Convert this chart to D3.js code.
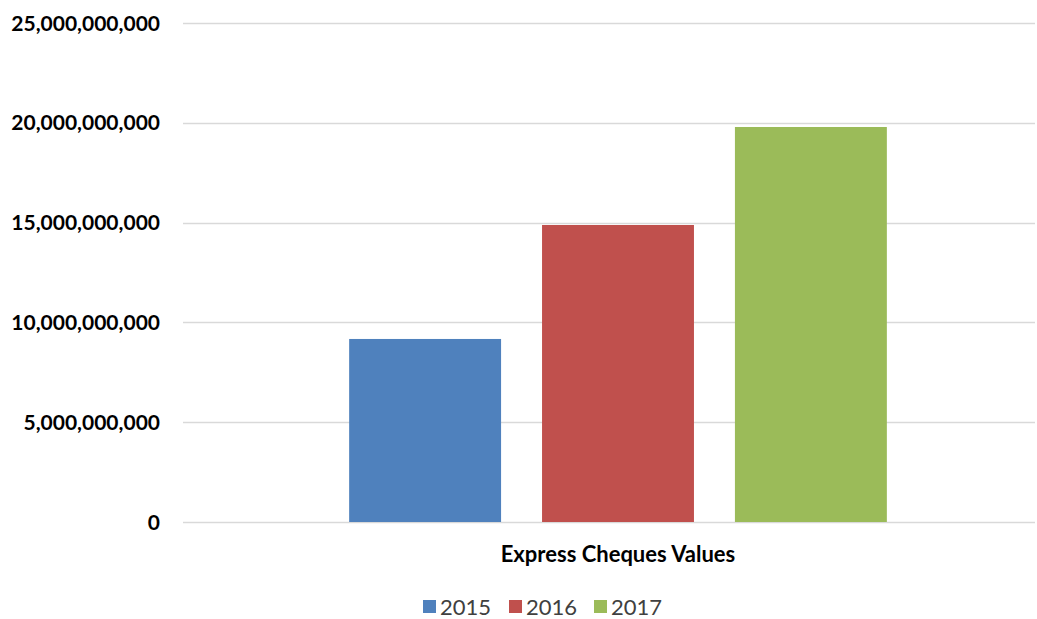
<!DOCTYPE html>
<html>
<head>
<meta charset="utf-8">
<title>Express Cheques Values</title>
<script src="https://d3js.org/d3.v7.min.js"></script>
<style>
  body { margin: 0; background: #fff; }
  text { font-family: Lato, "Open Sans", sans-serif; }
</style>
</head>
<body>
<div id="chart"></div>
<script>
// data
const categories = ["Express Cheques Values"];
const years = ["2015", "2016", "2017"];
const values = [9170000000, 14880000000, 19790000000];
const colors = ["#4F81BD", "#C0504D", "#9BBB59"];
const yTicks = [0, 5e9, 10e9, 15e9, 20e9, 25e9];

// layout
const width = 1037, height = 619;
const plotLeft = 183, plotRight = 1035, plotTop = 23, plotBottom = 522;

const svg = d3.select("#chart").append("svg")
    .attr("width", width)
    .attr("height", height);

const y = d3.scaleLinear().domain([0, 25e9]).range([plotBottom, plotTop]);

const x0 = d3.scaleBand().domain(categories)
    .range([plotLeft, 1053]).paddingOuter(0.309);
const x1 = d3.scaleBand().domain(years)
    .range([0, x0.bandwidth()]).paddingInner(0.2124);

const color = d3.scaleOrdinal().domain(years).range(colors);

// gridlines
svg.append("g").selectAll("line")
    .data(yTicks)
    .join("line")
    .attr("x1", plotLeft).attr("x2", plotRight)
    .attr("y1", d => Math.round(y(d)) + 0.5)
    .attr("y2", d => Math.round(y(d)) + 0.5)
    .attr("stroke", "#d9d9d9")
    .attr("stroke-width", 1.3);

// y axis labels
const fmt = d3.format(",");
svg.append("g").selectAll("text")
    .data(yTicks)
    .join("text")
    .attr("x", 160)
    .attr("y", d => y(d) + 7.5)
    .attr("text-anchor", "end")
    .attr("font-size", 21)
    .attr("font-weight", "bold")
    .attr("fill", "#000")
    .text(d => fmt(d));

// bars
const grp = svg.append("g")
    .attr("transform", "translate(" + x0(categories[0]) + ",0)");
grp.selectAll("rect")
    .data(years.map((yr, i) => ({ year: yr, value: values[i] })))
    .join("rect")
    .attr("x", d => x1(d.year))
    .attr("width", x1.bandwidth())
    .attr("y", d => y(d.value))
    .attr("height", d => y(0) - y(d.value))
    .attr("fill", d => color(d.year));

// category label
svg.append("text")
    .attr("x", x0(categories[0]) + x0.bandwidth() / 2)
    .attr("y", 562)
    .attr("text-anchor", "middle")
    .attr("font-size", 22)
    .attr("font-weight", "bold")
    .attr("fill", "#000")
    .text(categories[0]);

// legend
const legendX = [423, 509, 594];
const legend = svg.append("g").selectAll("g")
    .data(years)
    .join("g")
    .attr("transform", (d, i) => "translate(" + legendX[i] + ",600)");
legend.append("rect")
    .attr("width", 13).attr("height", 13)
    .attr("fill", d => color(d));
legend.append("text")
    .attr("x", 17)
    .attr("y", 14.5)
    .attr("font-size", 22)
    .attr("fill", "#404040")
    .text(d => d);
</script>
</body>
</html>
